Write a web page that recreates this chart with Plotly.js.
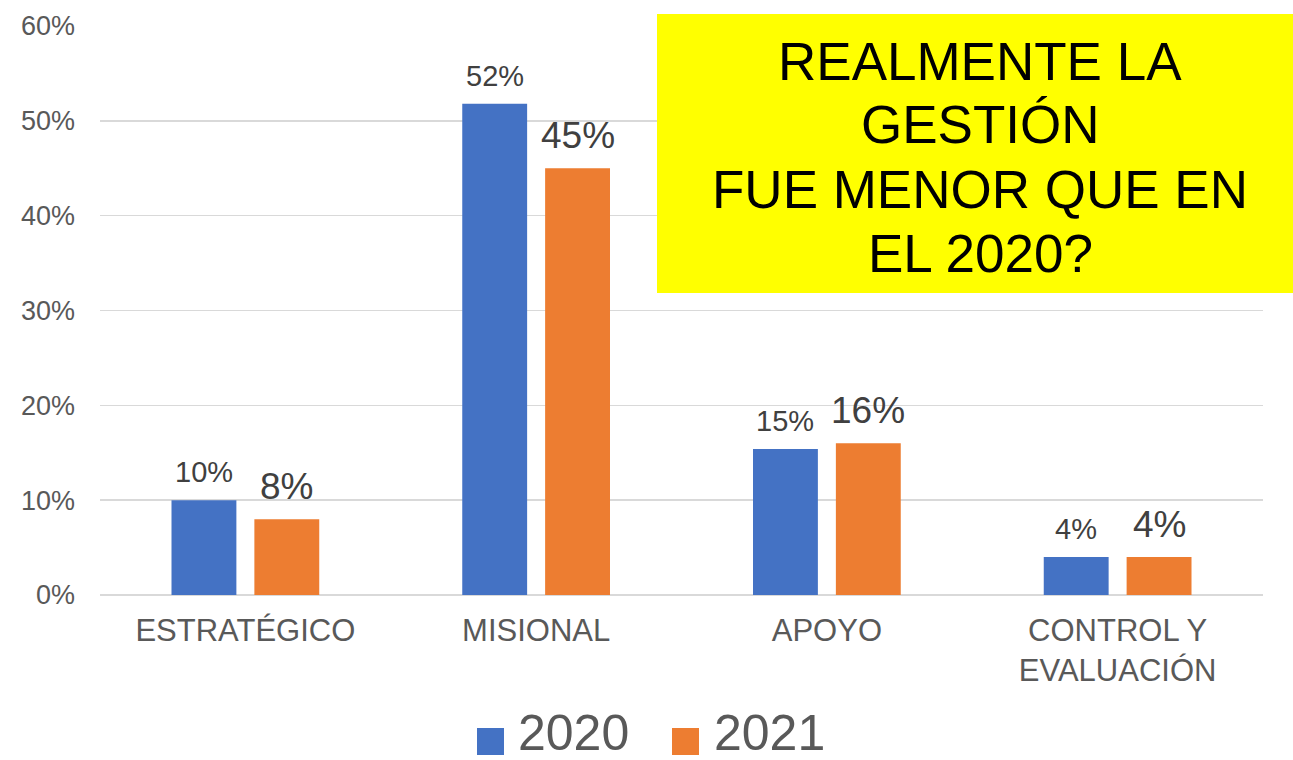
<!DOCTYPE html>
<html>
<head>
<meta charset="utf-8">
<script src="https://cdn.plot.ly/plotly-3.0.1.min.js"></script>
<style>html,body{margin:0;padding:0;background:#fff;}#chart{width:1293px;height:760px;}</style>
</head>
<body>
<div id="chart"></div>
<script>
const categories = ['ESTRATÉGICO', 'MISIONAL', 'APOYO', 'CONTROL Y<br>EVALUACIÓN'];
const values2020 = [0.10, 0.518, 0.154, 0.04];
const values2021 = [0.08, 0.45, 0.16, 0.04];
const seriesNames = ['2020', '2021'];
const seriesColors = ['#4472C4', '#ED7D31'];
const yTickVals = [0, 0.1, 0.2, 0.3, 0.4, 0.5, 0.6];
const yTickText = ['0%', '10%', '20%', '30%', '40%', '50%', '60%'];
const noteLines = ['REALMENTE LA', 'GESTIÓN', 'FUE MENOR QUE EN', 'EL 2020?'];

const FONT = '"Liberation Sans", Arial, sans-serif';

// plot area geometry (pixels) used to place paper-referenced decorations
const W = 1293, H = 760, ML = 100, MR = 30, MT = 26, MB = 165;
const PW = W - ML - MR, PH = H - MT - MB;
const px = x => (x - ML) / PW;
const py = y => (H - MB - y) / PH;

const BARGAP = 0.43, BARGROUPGAP = 0.217;
const slot = (PW / categories.length) * (1 - BARGAP) / 2;

const allValues = [values2020, values2021];
const labelSizes = [29, 37];

const traces = allValues.map((vals, i) => ({
  type: 'bar', name: seriesNames[i], x: categories, y: vals,
  marker: {color: seriesColors[i]},
  hoverinfo: 'none', showlegend: false
}));

const shapes = [{
  type: 'rect', xref: 'paper', yref: 'paper',
  x0: px(657), x1: px(1300), y0: py(293), y1: py(14),
  fillcolor: '#FFFF00', line: {width: 0}, layer: 'above'
}];
const annotations = [];

// value labels above bars, positioned from the data through the axes
allValues.forEach((vals, i) => {
  vals.forEach((v, j) => {
    annotations.push({
      xref: 'x', yref: 'y', x: categories[j], y: v,
      xshift: (i === 0 ? -1 : 1) * slot / 2, yshift: 11,
      xanchor: 'center', yanchor: 'bottom', showarrow: false, borderpad: 0,
      text: Math.round(v * 100) + '%',
      font: {family: FONT, size: labelSizes[i], color: '#404040'}
    });
  });
});

noteLines.forEach((t, i) => {
  annotations.push({
    xref: 'paper', yref: 'paper', x: px(980), y: py(61 + i * 64),
    xanchor: 'center', yanchor: 'middle', showarrow: false,
    text: t, font: {family: FONT, size: 53, color: '#000000'}
  });
});
// custom legend
const legendSquares = [477, 672];
const legendTextX = [517, 713];
seriesNames.forEach((n, i) => {
  shapes.push({
    type: 'rect', xref: 'paper', yref: 'paper',
    x0: px(legendSquares[i]), x1: px(legendSquares[i] + 27),
    y0: py(755), y1: py(728),
    fillcolor: seriesColors[i], line: {width: 0}
  });
  annotations.push({
    xref: 'paper', yref: 'paper', x: px(legendTextX[i]), y: py(733),
    xanchor: 'left', yanchor: 'middle', showarrow: false, borderpad: 0,
    text: n, font: {family: FONT, size: 50, color: '#595959'}
  });
});

const layout = {
  width: W, height: H,
  margin: {l: ML, r: MR, t: MT, b: MB},
  paper_bgcolor: '#ffffff', plot_bgcolor: '#ffffff',
  font: {family: FONT, color: '#595959'},
  barmode: 'group', bargap: BARGAP, bargroupgap: BARGROUPGAP,
  showlegend: false,
  xaxis: {
    type: 'category', showgrid: false, zeroline: false, showline: false,
    ticks: '', tickfont: {family: FONT, size: 31, color: '#595959'},
    ticklabelstandoff: 14, automargin: false
  },
  yaxis: {
    range: [0, 0.6], tickvals: yTickVals, ticktext: yTickText,
    showgrid: true, gridcolor: '#d9d9d9', gridwidth: 1.5,
    zeroline: true, zerolinecolor: '#d9d9d9', zerolinewidth: 1.5,
    showline: false, ticks: '',
    tickfont: {family: FONT, size: 27, color: '#595959'},
    ticklabelstandoff: 24, fixedrange: true, automargin: false
  },
  shapes: shapes,
  annotations: annotations
};

Plotly.newPlot('chart', traces, layout, {displayModeBar: false, staticPlot: true});
</script>
</body>
</html>
